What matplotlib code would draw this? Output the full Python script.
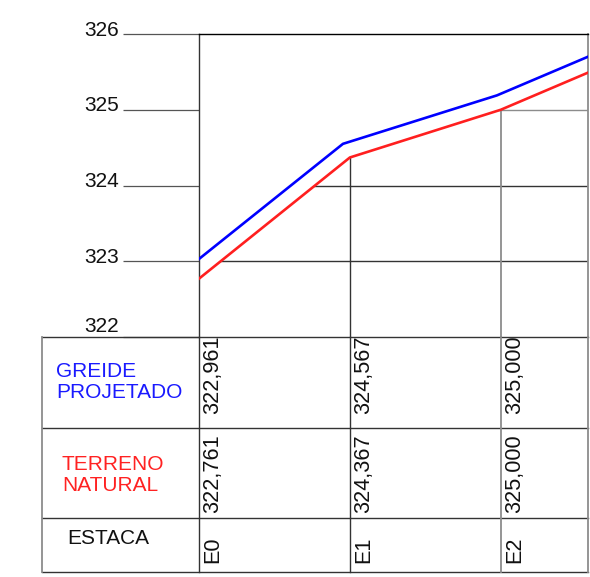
import matplotlib
matplotlib.use("Agg")
import matplotlib.pyplot as plt
from matplotlib.patches import Polygon
from matplotlib.lines import Line2D
import matplotlib.transforms as mtransforms

plt.rcParams['font.family'] = ['Liberation Sans', 'DejaVu Sans']

# ---- data ----
stations = ['E0', 'E1', 'E2']
station_x = [0, 1, 2]
greide_vals = [322.961, 324.567, 325.000]
terreno_vals = [322.761, 324.367, 325.000]

greide_line_x = [0, 0.954, 1.975, 2.578]
greide_line_y = [323.03, 324.55, 325.19, 325.70]
terreno_line_x = [0, 1, 2, 2.578]
terreno_line_y = [322.77, 324.37, 325.00, 325.49]

y_ticks = [322, 323, 324, 325, 326]
y_tick_labels = ['322', '323', '324', '325', '326']

W, H = 590, 577
fig = plt.figure(figsize=(W / 100, H / 100), dpi=100)

def yf(p):
    return 1 - p / H

def xf(p):
    return p / W

ax = fig.add_axes([xf(199), yf(337), (588 - 199) / W, (337 - 34) / H])
ax.set_xlim(0, 2.578)
ax.set_ylim(322, 326)

dark = '#333333'
gray = '#8c8c8c'
txt = '#111111'

# spines
ax.spines['top'].set_color('black')
ax.spines['top'].set_linewidth(1.0)
ax.spines['left'].set_color(dark)
ax.spines['left'].set_linewidth(1.0)
ax.spines['right'].set_color(gray)
ax.spines['right'].set_linewidth(1.3)
ax.spines['bottom'].set_visible(False)

# clip region under the terrain line
clip_poly = Polygon(list(zip(terreno_line_x, terreno_line_y)) + [(2.578, 322), (0, 322)],
                    closed=True, transform=ax.transData)

for yv in [323, 324, 325]:
    ln = ax.axhline(yv, color=gray if yv == 325 else dark, lw=1.0, zorder=1)
    ln.set_clip_path(clip_poly)
for i, xv in enumerate(station_x[1:]):
    ln = ax.axvline(xv, color=dark if i == 0 else gray, lw=1.0 if i == 0 else 1.3, zorder=1)
    ln.set_clip_path(clip_poly)

# profile lines
ax.plot(greide_line_x, greide_line_y, color='#0000ff', lw=1.9, zorder=3, solid_joinstyle='round')
ax.plot(terreno_line_x, terreno_line_y, color='#ff1f1f', lw=1.9, zorder=3, solid_joinstyle='round')

# y ticks (long lines to the left)
ax.set_yticks(y_ticks)
ax.set_yticklabels([''] * len(y_ticks))
ax.tick_params(axis='y', length=76 * 0.72, width=0.9, color='#555555', direction='out')
ax.set_xticks([])

for v, lab in zip(y_ticks, y_tick_labels):
    dy = 10 if v == 322 else 4
    tr = mtransforms.offset_copy(ax.get_yaxis_transform(), fig=fig, x=-80, y=dy, units='dots')
    ax.text(0, v, lab, transform=tr, ha='right', va='center', fontsize=15,
            color=txt, clip_on=False)

# ---- table ----
tbl_left, tbl_right = 42, 588
rows = [337, 428, 518, 572]
for r in rows:
    fig.add_artist(Line2D([xf(tbl_left), xf(tbl_right)], [yf(r), yf(r)],
                          transform=fig.transFigure, color=dark, lw=1.0))
for c, col in [(tbl_left, gray), (tbl_right, gray)]:
    fig.add_artist(Line2D([xf(c), xf(c)], [yf(rows[0]), yf(rows[-1])],
                          transform=fig.transFigure, color=col, lw=1.3))

blend = mtransforms.blended_transform_factory(ax.transData, fig.transFigure)
for i, xv in enumerate(station_x):
    fig.add_artist(Line2D([xv, xv], [yf(rows[0]), yf(rows[-1])], transform=blend,
                          color=gray if i == 2 else dark, lw=1.3 if i == 2 else 1.0))

fig.text(xf(56), yf(382), 'GREIDE\nPROJETADO', color='#1a1aff', ha='left', va='center',
         fontsize=15, linespacing=1.15)
fig.text(xf(62), yf(475), 'TERRENO\nNATURAL', color='#ff2222', ha='left', va='center',
         fontsize=15, linespacing=1.15)
fig.text(xf(67), yf(539), 'ESTACA', color=txt, ha='left', va='center', fontsize=15)

val_tr = mtransforms.offset_copy(blend, fig=fig, x=14, units='dots')
fmt = lambda v: f"{v:.3f}".replace('.', ',')
for xv, g, t, s in zip(station_x, greide_vals, terreno_vals, stations):
    ax.text(xv, yf(414), fmt(g), transform=val_tr, rotation=90, rotation_mode='anchor',
            ha='left', va='center', fontsize=15.6, color=txt, clip_on=False)
    ax.text(xv, yf(513), fmt(t), transform=val_tr, rotation=90, rotation_mode='anchor',
            ha='left', va='center', fontsize=15.6, color=txt, clip_on=False)
    ax.text(xv, yf(563), s, transform=val_tr, rotation=90, rotation_mode='anchor',
            ha='left', va='center', fontsize=15.6, color=txt, clip_on=False)

fig.savefig('out.png', dpi=100)
